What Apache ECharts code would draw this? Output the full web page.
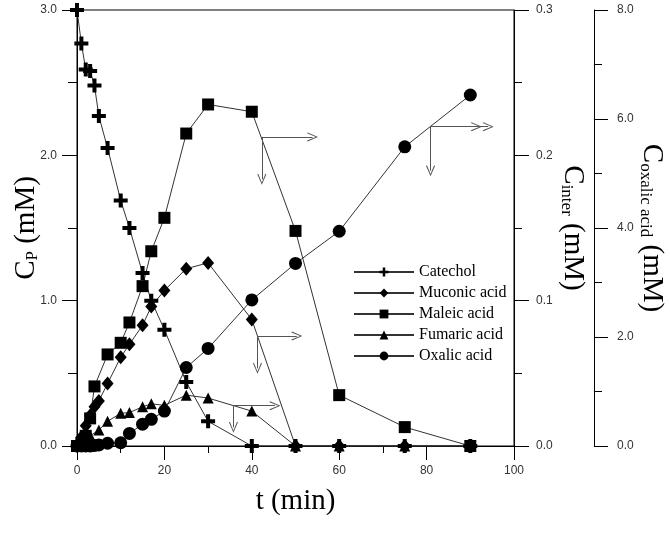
<!DOCTYPE html>
<html>
<head>
<meta charset="utf-8">
<script src="https://cdn.jsdelivr.net/npm/echarts@6/dist/echarts.min.js"></script>
<style>
  html, body { margin: 0; padding: 0; background: #fff; }
  #chart { width: 670px; height: 536px; }
</style>
</head>
<body>
<div id="chart"></div>
<script>
// 各物质浓度随时间变化 (t 单位 min)

const catecholT = [0, 1, 2, 3, 4, 5, 7, 10, 12, 15, 17, 20, 25, 30, 40, 50, 60, 75, 90];
const catecholC = [3.00, 2.77, 2.59, 2.58, 2.48, 2.27, 2.05, 1.69, 1.50, 1.19, 1.00, 0.80, 0.44, 0.17, 0, 0, 0, 0, 0];

const muconicT = [0, 1, 2, 3, 4, 5, 7, 10, 12, 15, 17, 20, 25, 30, 40, 50, 60, 75, 90];
const muconicC = [0, 0.006, 0.014, 0.021, 0.027, 0.031, 0.043, 0.061, 0.070, 0.083, 0.096, 0.107, 0.122, 0.126, 0.087, 0, 0, 0, 0];

const maleicT = [0, 1, 2, 3, 4, 7, 10, 12, 15, 17, 20, 25, 30, 40, 50, 60, 75, 90];
const maleicC = [0, 0.002, 0.007, 0.019, 0.041, 0.063, 0.071, 0.085, 0.110, 0.134, 0.157, 0.215, 0.235, 0.230, 0.148, 0.035, 0.013, 0];

const fumaricT = [0, 1, 2, 3, 5, 7, 10, 12, 15, 17, 20, 25, 30, 40, 50, 60, 75, 90];
const fumaricC = [0, 0.002, 0.004, 0.007, 0.011, 0.017, 0.0225, 0.023, 0.027, 0.029, 0.028, 0.035, 0.033, 0.024, 0, 0, 0, 0];

const oxalicT = [0, 1, 2, 3, 4, 5, 7, 10, 12, 15, 17, 20, 25, 30, 40, 50, 60, 75, 90];
const oxalicC = [0, 0, 0, 0, 0.01, 0.02, 0.05, 0.06, 0.23, 0.40, 0.49, 0.64, 1.44, 1.79, 2.68, 3.35, 3.94, 5.49, 6.44];

// 指示坐标轴的箭头: [拐点t, 拐点C, 向右终点t, 向下终点C]
const maleicArrow = [42.3, 0.2127, 53.9, 0.1836];
const muconicArrow = [41.3, 0.0757, 50.3, 0.0535];
const fumaricArrow = [35.8, 0.0277, 45.3, 0.0129];
const oxalicArrow = [80.9, 5.86, 94.1, 5.05];

const plusPath = 'path://M5,0 H9 V5 H14 V9 H9 V14 H5 V9 H0 V5 H5 Z';
const openHead = 'path://M0,10 L5,0 L10,10 L9,10.6 L5,2.2 L1,10.6 Z';

const pairs = (ts, vs) => ts.map((t, i) => [t, vs[i]]);

const arrowLines = (a, extra) => {
  const lines = [
    [{ coord: [a[0], a[1]] }, { coord: [a[2], a[1]] }],
    [{ coord: [a[0], a[1]] }, { coord: [a[0], a[3]] }]
  ];
  if (extra) lines.push([{ coord: [a[0], a[1]] }, { coord: [a[2] - 2.7, a[1]] }]);
  return {
    silent: true,
    symbol: ['none', openHead],
    symbolSize: [9, 11],
    label: { show: false },
    lineStyle: { color: '#555', width: 1, type: 'solid' },
    emphasis: { disabled: true },
    data: lines
  };
};

const serif = 'Liberation Serif';
const sans = 'Liberation Sans';

const nameRich = {
  c: { fontFamily: serif, fontSize: 29, color: '#000' },
  s: { fontFamily: serif, fontSize: 17, color: '#000', padding: [13, 0, 0, 0] }
};

const lineBase = {
  type: 'line',
  lineStyle: { color: '#333', width: 1 },
  itemStyle: { color: '#000' },
  emphasis: { disabled: true }
};

const tickLabel = v => v.toFixed(1);

const chart = echarts.init(document.getElementById('chart'));

const option = {
  animation: false,
  backgroundColor: '#fff',
  grid: {
    left: 77, right: 156, top: 10, bottom: 90,
    containLabel: false, outerBoundsMode: 'none',
    show: true, borderColor: '#000', borderWidth: 1, backgroundColor: 'transparent'
  },
  legend: {
    left: 353, top: 264, padding: 0,
    orient: 'vertical',
    itemWidth: 60, itemHeight: 11, itemGap: 5,
    textStyle: { fontFamily: serif, fontSize: 16, color: '#000' },
    data: ['Catechol', 'Muconic acid', 'Maleic acid', 'Fumaric acid', 'Oxalic acid']
  },
  xAxis: {
    type: 'value', min: 0, max: 100, interval: 20,
    name: 't (min)', nameLocation: 'middle', nameGap: 41, nameMoveOverlap: false,
    nameTextStyle: { fontFamily: serif, fontSize: 29, color: '#000' },
    axisLine: { lineStyle: { color: '#000' } },
    axisTick: { length: 14, lineStyle: { color: '#000' } },
    minorTick: { show: true, splitNumber: 2, length: 7, lineStyle: { color: '#000' } },
    axisLabel: { margin: 19, fontFamily: sans, fontSize: 12, color: '#333' },
    splitLine: { show: false }
  },
  yAxis: [
    {
      type: 'value', min: 0, max: 3, interval: 1, position: 'left',
      name: '{c|C}{s|P}{c| (mM)}', nameLocation: 'middle', nameGap: 36, nameRotate: 90,
      nameMoveOverlap: false,
      nameTextStyle: { rich: nameRich },
      axisLine: { lineStyle: { color: '#000' } },
      axisTick: { length: 15, lineStyle: { color: '#000' } },
      minorTick: { show: true, splitNumber: 2, length: 9, lineStyle: { color: '#000' } },
      axisLabel: { margin: 20, fontFamily: sans, fontSize: 12, color: '#333', formatter: tickLabel },
      splitLine: { show: false }
    },
    {
      type: 'value', min: 0, max: 0.3, interval: 0.1, position: 'right',
      name: '{c|C}{s|inter}{c| (mM)}', nameLocation: 'middle', nameGap: 44, nameRotate: -90,
      nameMoveOverlap: false,
      nameTextStyle: { rich: nameRich },
      axisLine: { lineStyle: { color: '#000' } },
      axisTick: { length: 15, lineStyle: { color: '#000' } },
      minorTick: { show: true, splitNumber: 2, length: 8, lineStyle: { color: '#000' } },
      axisLabel: { margin: 22, fontFamily: sans, fontSize: 12, color: '#333', formatter: tickLabel },
      splitLine: { show: false }
    },
    {
      type: 'value', min: 0, max: 8, interval: 2, position: 'right', offset: 80,
      name: '{c|C}{s|oxalic acid}{c| (mM)}', nameLocation: 'middle', nameGap: 43, nameRotate: -90,
      nameMoveOverlap: false,
      nameTextStyle: { rich: nameRich },
      axisLine: { lineStyle: { color: '#000' } },
      axisTick: { length: 14, lineStyle: { color: '#000' } },
      minorTick: { show: true, splitNumber: 2, length: 8, lineStyle: { color: '#000' } },
      axisLabel: { margin: 23, fontFamily: sans, fontSize: 12, color: '#333', formatter: tickLabel },
      splitLine: { show: false }
    }
  ],
  series: [
    Object.assign({}, lineBase, {
      name: 'Catechol', yAxisIndex: 0,
      symbol: plusPath, symbolSize: 14,
      data: pairs(catecholT, catecholC)
    }),
    Object.assign({}, lineBase, {
      name: 'Muconic acid', yAxisIndex: 1,
      symbol: 'diamond', symbolSize: [12, 14],
      data: pairs(muconicT, muconicC),
      markLine: arrowLines(muconicArrow)
    }),
    Object.assign({}, lineBase, {
      name: 'Maleic acid', yAxisIndex: 1,
      symbol: 'rect', symbolSize: 12,
      data: pairs(maleicT, maleicC),
      markLine: arrowLines(maleicArrow)
    }),
    Object.assign({}, lineBase, {
      name: 'Fumaric acid', yAxisIndex: 1,
      symbol: 'triangle', symbolSize: 11,
      data: pairs(fumaricT, fumaricC),
      markLine: arrowLines(fumaricArrow)
    }),
    Object.assign({}, lineBase, {
      name: 'Oxalic acid', yAxisIndex: 2,
      symbol: 'circle', symbolSize: 13,
      data: pairs(oxalicT, oxalicC),
      markLine: arrowLines(oxalicArrow, true)
    })
  ]
};

chart.setOption(option);
</script>
</body>
</html>
